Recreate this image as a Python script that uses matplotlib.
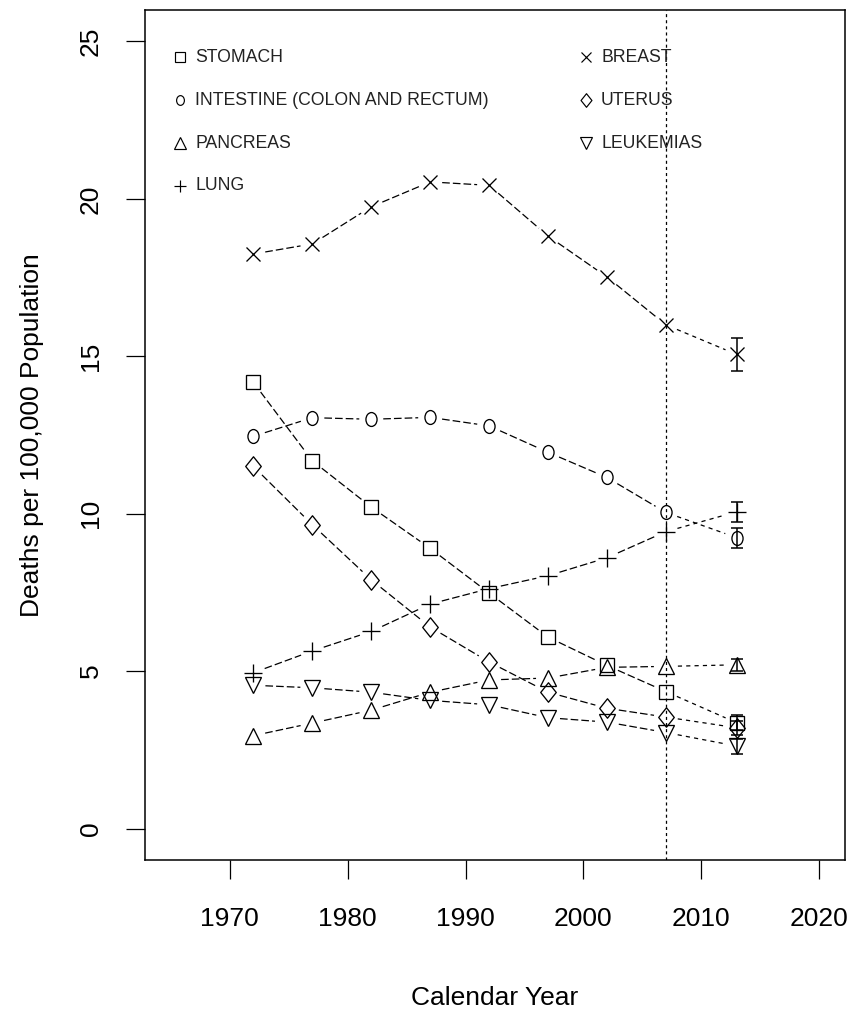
import numpy as np
import matplotlib
matplotlib.use('Agg')
import matplotlib.pyplot as plt
from matplotlib.path import Path
from matplotlib.transforms import Affine2D
from matplotlib import font_manager

# observed rates, deaths per 100,000
years = [1972, 1977, 1982, 1987, 1992, 1997, 2002, 2007]
stomach = [14.17, 11.68, 10.21, 8.90, 7.48, 6.08, 5.18, 4.35]
intestine = [12.46, 13.05, 13.00, 13.06, 12.79, 11.95, 11.15, 10.04]
pancreas = [2.95, 3.35, 3.76, 4.33, 4.72, 4.78, 5.12, 5.15]
lung = [4.95, 5.64, 6.26, 7.13, 7.62, 8.03, 8.60, 9.43]
breast = [18.25, 18.57, 19.75, 20.54, 20.43, 18.82, 17.52, 16.00]
uterus = [11.50, 9.65, 7.90, 6.40, 5.29, 4.33, 3.82, 3.54]
leukemias = [4.55, 4.47, 4.33, 4.07, 3.93, 3.52, 3.38, 3.05]

# projection with interval
proj_year = 2013
proj = {'stomach': (3.36, 3.12, 3.60), 'intestine': (9.24, 8.90, 9.55),
        'pancreas': (5.20, 5.00, 5.40), 'lung': (10.06, 9.75, 10.37),
        'breast': (15.06, 14.52, 15.58), 'uterus': (3.20, 2.98, 3.42),
        'leukemias': (2.62, 2.38, 2.85)}
cutoff_year = 2007

labels = {'stomach': 'STOMACH', 'intestine': 'INTESTINE (COLON AND RECTUM)',
          'pancreas': 'PANCREAS', 'lung': 'LUNG', 'breast': 'BREAST',
          'uterus': 'UTERUS', 'leukemias': 'LEUKEMIAS'}
series = {'stomach': stomach, 'intestine': intestine, 'pancreas': pancreas,
          'lung': lung, 'breast': breast, 'uterus': uterus, 'leukemias': leukemias}

names = {f.name for f in font_manager.fontManager.ttflist}
narrow = 'Liberation Sans Narrow' in names
plt.rcParams['font.family'] = ['Liberation Sans', 'DejaVu Sans']
plt.rcParams['lines.scale_dashes'] = False

# R-like open symbols, slightly taller than wide as in the picture
asp = 0.8
ellipse = Path.unit_circle().transformed(Affine2D().scale(asp, 1.0))
diamond = Path([(0, 1), (asp, 0), (0, -1), (-asp, 0), (0, 1)],
               [Path.MOVETO, Path.LINETO, Path.LINETO, Path.LINETO, Path.CLOSEPOLY])
markers = {'stomach': ('s', 9.5), 'intestine': (ellipse, 10), 'pancreas': ('^', 11.5),
           'lung': ('+', 13), 'breast': ('x', 10.5), 'uterus': (diamond, 14),
           'leukemias': ('v', 11.5)}

fig = plt.figure(figsize=(8.53, 10.11), dpi=100)
ax = fig.add_axes([145 / 853, 151 / 1011, 700 / 853, 850 / 1011])
ax.set_xlim(1962.8, 2022.2)
ax.set_ylim(-1, 26)


def gapped(xs, ys, dashes, gap=12):
    # type="b" style: segments stop short of the symbols
    pts = ax.transData.transform(np.column_stack([xs, ys]))
    inv = ax.transData.inverted()
    for p0, p1 in zip(pts[:-1], pts[1:]):
        d = p1 - p0
        L = np.hypot(*d)
        if L <= 2 * gap + 2:
            continue
        u = d / L
        a = inv.transform(p0 + u * gap)
        b = inv.transform(p1 - u * gap)
        ax.plot([a[0], b[0]], [a[1], b[1]], color='black', lw=0.9,
                linestyle=(0, dashes), solid_capstyle='butt')


for key, vals in series.items():
    m, ms = markers[key]
    pv, lo, hi = proj[key]
    gapped(years, vals, (5.5, 2.2))
    gapped([years[-1], proj_year], [vals[-1], pv], (3, 3))
    ax.plot(years + [proj_year], vals + [pv], linestyle='none', marker=m, ms=ms,
            mfc='none', mec='black', mew=0.95)
    ax.errorbar([proj_year], [pv], yerr=[[pv - lo], [hi - pv]], fmt='none',
                ecolor='black', elinewidth=1.1, capsize=4.5, capthick=1.1)

ax.axvline(cutoff_year, color='black', lw=0.9, linestyle=(0, (2.2, 2.2)))

# legend
left_keys = ['stomach', 'intestine', 'pancreas', 'lung']
right_keys = ['breast', 'uterus', 'leukemias']
rows = [0.9447, 0.894, 0.8435, 0.793]
lfont = 'Liberation Sans Narrow' if narrow else 'Liberation Sans'
lsize = 14.5 if narrow else 12.7
for col, keys in [((0.050, 0.0715), left_keys), ((0.630, 0.6515), right_keys)]:
    for key, yy in zip(keys, rows):
        m, ms = markers[key]
        ax.plot([col[0]], [yy], transform=ax.transAxes, linestyle='none', marker=m,
                ms=ms * 0.7, mfc='none', mec='black', mew=0.85, clip_on=False)
        ax.text(col[1], yy, labels[key], transform=ax.transAxes, ha='left',
                va='center', fontsize=lsize, family=lfont, color='#222222')

ax.set_xticks([1970, 1980, 1990, 2000, 2010, 2020])
ax.set_yticks([0, 5, 10, 15, 20, 25])
ax.tick_params(axis='both', direction='out', length=13.5, width=0.9,
               labelsize=19, colors='black')
ax.tick_params(axis='x', pad=20)
ax.tick_params(axis='y', pad=17, labelrotation=90)
for lab in ax.get_yticklabels():
    lab.set_va('center')
for s in ax.spines.values():
    s.set_linewidth(1.1)

fig.text(495 / 853, 1 - 998 / 1011, 'Calendar Year', ha='center', va='center', fontsize=19)
fig.text(32 / 853, 1 - 435 / 1011, 'Deaths per 100,000 Population', ha='center',
         va='center', rotation=90, fontsize=19)

fig.savefig('out.png', dpi=100)
